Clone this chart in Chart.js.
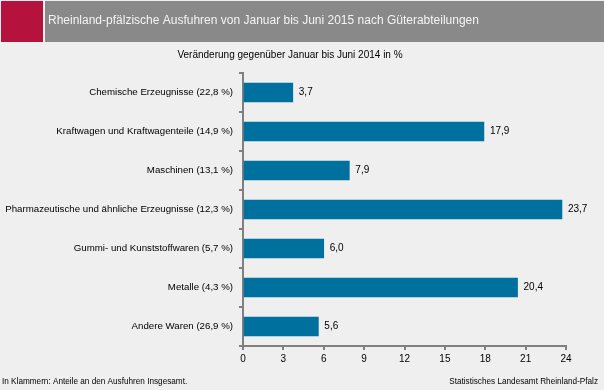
<!DOCTYPE html>
<html>
<head>
<meta charset="utf-8">
<script src="https://cdn.jsdelivr.net/npm/chart.js@4/dist/chart.umd.min.js"></script>
<style>
  html, body { margin: 0; padding: 0; background: #eeefee; }
  #wrap { width: 604px; height: 390px; position: relative; }
</style>
</head>
<body>
<div id="wrap"><canvas id="chart1" width="604" height="390"></canvas></div>
<script>
const categories = [
    'Chemische Erzeugnisse (22,8 %)',
    'Kraftwagen und Kraftwagenteile (14,9 %)',
    'Maschinen (13,1 %)',
    'Pharmazeutische und ähnliche Erzeugnisse (12,3 %)',
    'Gummi- und Kunststoffwaren (5,7 %)',
    'Metalle (4,3 %)',
    'Andere Waren (26,9 %)'
];
const values = [3.7, 17.9, 7.9, 23.7, 6.0, 20.4, 5.6];
const xTicks = [0, 3, 6, 9, 12, 15, 18, 21, 24];

const title = 'Rheinland-pfälzische Ausfuhren von Januar bis Juni 2015 nach Güterabteilungen';
const subtitle = 'Veränderung gegenüber Januar bis Juni 2014 in %';
const noteLeft = 'In Klammern: Anteile an den Ausfuhren Insgesamt.';
const noteRight = 'Statistisches Landesamt Rheinland-Pfalz';

const FONT = '"Liberation Sans", Arial, sans-serif';

// header band, subtitle, footnotes and value labels
const decor = {
    id: 'decor',
    beforeDraw(chart) {
        const c = chart.ctx;
        c.save();
        c.fillStyle = '#eeefee';
        c.fillRect(0, 0, chart.width, chart.height);
        c.fillStyle = '#b5123e';
        c.fillRect(1, 1, 42, 41);
        c.fillStyle = '#898989';
        c.fillRect(45, 1, chart.width - 45, 41);
        c.fillStyle = '#f4f4f4';
        c.font = '12px ' + FONT;
        c.textBaseline = 'middle';
        c.fillText(title, 48, 21);
        c.fillStyle = '#000';
        c.font = '10px ' + FONT;
        c.textAlign = 'center';
        c.fillText(subtitle, 290, 55);
        c.font = '8.2px ' + FONT;
        c.textAlign = 'left';
        c.fillText(noteLeft, 2, 382);
        c.textAlign = 'right';
        c.fillText(noteRight, 598, 382);
        c.restore();
    },
    afterDatasetsDraw(chart) {
        const c = chart.ctx;
        c.save();
        c.fillStyle = '#000';
        c.font = '10px ' + FONT;
        c.textBaseline = 'middle';
        chart.getDatasetMeta(0).data.forEach((bar, i) => {
            c.fillText(values[i].toFixed(1).replace('.', ','), bar.x + 6, bar.y);
        });
        c.restore();
    }
};

const cfg1 = {
    type: 'bar',
    data: {
        labels: categories,
        datasets: [
            { data: values, backgroundColor: '#00719f', barThickness: 19 }
        ]
    },
    options: {
        indexAxis: 'y',
        responsive: false,
        animation: false,
        layout: { padding: { top: 73, right: 38, bottom: 0, left: 0 } },
        plugins: { legend: { display: false }, tooltip: { enabled: false } },
        scales: {
            x: {
                min: 0, max: 24,
                afterBuildTicks: s => { s.ticks = xTicks.map(v => ({ value: v })); },
                afterFit: s => { s.height = 44; },
                grid: { drawOnChartArea: false, drawTicks: true, tickLength: 4, color: '#808080', lineWidth: 2 },
                border: { color: '#808080', width: 2 },
                ticks: { color: '#000', font: { family: FONT, size: 10 }, padding: 3, maxRotation: 0 }
            },
            y: {
                afterFit: s => { s.width = 243; },
                grid: { offset: true, drawOnChartArea: false, drawTicks: true, tickLength: 4, color: '#808080', lineWidth: 2 },
                border: { color: '#808080', width: 2 },
                ticks: { color: '#000', font: { family: FONT, size: 9.7 }, padding: 6 }
            }
        }
    },
    plugins: [decor]
};

const chart1 = new Chart(document.getElementById('chart1').getContext('2d'), cfg1);
</script>
</body>
</html>
